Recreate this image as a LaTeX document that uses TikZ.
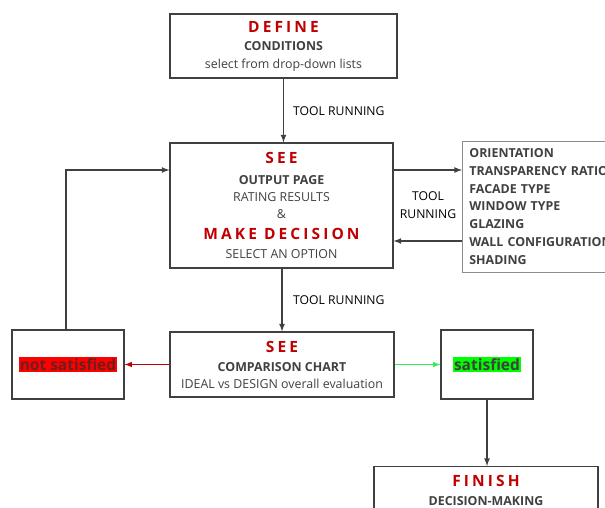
\documentclass[tikz,border=0pt]{standalone}
\usepackage{fontspec}
\setmainfont{Open Sans}
\newfontfamily\wideface[LetterSpace=20]{Open Sans}
\usetikzlibrary{positioning}
\definecolor{darkred}{RGB}{192,0,0}
\definecolor{boxgray}{RGB}{64,64,64}
\definecolor{listgray}{RGB}{140,140,140}
\definecolor{hotred}{RGB}{255,0,0}
\definecolor{hotgreen}{RGB}{0,255,0}
\definecolor{arrowgreen}{RGB}{50,235,90}
\definecolor{nottext}{RGB}{110,30,30}
\newcommand{\headline}[1]{{\wideface\bfseries\fontsize{15.5}{18}\selectfont\color{darkred}#1}}
\setlength{\fboxsep}{1pt}
\begin{document}
\begin{tikzpicture}[x=1pt,y=1pt,
  box/.style={draw=boxgray,line width=1.2pt,align=center,text=boxgray,
    font=\fontsize{12.4}{17}\selectfont,inner sep=0pt},
  flow/.style={-latex,line width=1.6pt,draw=boxgray},
  tag/.style={text=black,font=\fontsize{12.2}{18}\selectfont,align=center,inner sep=0pt}]
\useasboundingbox (0,0) rectangle (605,508);
\clip (0,0) rectangle (605,508);
\node[box,minimum width=227,minimum height=64] (define) at (283.5,462)
  {\headline{DEFINE}\\[1pt] \textbf{CONDITIONS}\\[1pt] select from drop-down lists};
\node[box,minimum width=223,minimum height=125] (output) at (281.5,302.5)
  {\headline{SEE}\\[4pt] \textbf{OUTPUT PAGE}\\ RATING RESULTS\\ \&\\[4pt]
   \headline{MAKE DECISION}\\[2pt] SELECT AN OPTION};
\node[box,draw=listgray,line width=0.8pt,anchor=west,minimum height=131,text width=190,
  inner xsep=7,align=left,font=\bfseries\fontsize{12.4}{17.8}\selectfont] (options) at (462,301.5)
  {ORIENTATION\\ TRANSPARENCY RATIO\\ FACADE TYPE\\ WINDOW TYPE\\ GLAZING\\
   WALL CONFIGURATION\\ SHADING};
\node[box,minimum width=224,minimum height=65] (compare) at (282,143.5)
  {\headline{SEE}\\[2pt] \textbf{COMPARISON CHART}\\ IDEAL vs DESIGN overall evaluation};
\node[box,minimum width=112,minimum height=69] (notok) at (68,143.5)
  {\colorbox{hotred}{\color{nottext}\bfseries\fontsize{15.5}{18}\selectfont not satisfied}};
\node[box,minimum width=92,minimum height=69] (ok) at (487,143.5)
  {\colorbox{hotgreen}{\color{boxgray}\bfseries\fontsize{15.5}{18}\selectfont satisfied}};
\node[box,anchor=north,minimum width=224,inner ysep=9pt] (finish) at (486,42)
  {\headline{FINISH}\\[2pt] \textbf{DECISION-MAKING}};
\node[tag,anchor=west] (run1) at (293,397) {TOOL RUNNING};
\node[tag,anchor=west] (run2) at (293,208) {TOOL RUNNING};
\node[tag] (run3) at (428,303) {TOOL\\ RUNNING};
\draw[flow] (define.south) -- (define.south |- output.north);
\draw[flow] ([yshift=35.5pt]output.east) -- ([yshift=35.5pt]output.east -| options.west);
\draw[flow] ([yshift=-35.5pt]output.east -| options.west) -- ([yshift=-35.5pt]output.east);
\draw[flow] (output.south -| compare.north) -- (compare.north);
\draw[-latex,line width=1.5pt,draw=darkred] (compare.west) -- (notok.east);
\draw[-latex,line width=1.5pt,draw=arrowgreen] (compare.east) -- (ok.west);
\draw[flow] ([xshift=-2pt]notok.north) |- ([yshift=35.5pt]output.west);
\draw[flow] (ok.south) -- (ok.south |- finish.north);
\end{tikzpicture}
\end{document}
